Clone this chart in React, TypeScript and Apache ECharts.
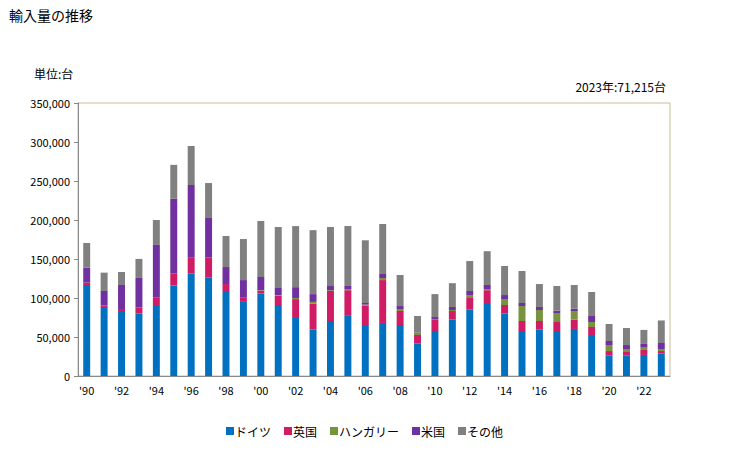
import React, { useEffect, useRef } from "react";
import * as echarts from "echarts";

const years = ["1990","1991","1992","1993","1994","1995","1996","1997","1998","1999","2000","2001","2002","2003","2004","2005","2006","2007","2008","2009","2010","2011","2012","2013","2014","2015","2016","2017","2018","2019","2020","2021","2022","2023"];
const germany = [116700,88500,83300,80000,91000,116000,131600,126000,109000,96000,105600,91000,75600,59400,70500,78000,65400,68000,65400,41500,57700,72200,85000,93600,80000,57700,59400,57700,60300,52600,26000,26000,27000,28600];
const uk = [3000,2000,2600,7700,10000,15200,20000,25700,8900,5000,3800,12000,23000,33300,38500,32000,24600,55000,17900,11100,14100,11100,16000,16400,11000,12800,11100,11500,11900,10200,6000,4800,6400,3400];
const hungary = [0,0,0,0,0,0,0,0,0,0,600,800,1300,2300,1000,1500,1500,2600,2600,1700,1200,1300,2800,1500,7700,19200,14100,11600,11100,6400,7700,3800,3000,2600];
const usa = [19200,18500,30800,38000,67000,96000,93300,50900,21800,22000,16900,9000,14000,10000,5400,3900,2100,5200,3800,1300,2600,3900,5200,5200,5100,3900,3900,3000,3000,7700,5200,5100,4700,7700];
const others = [31600,23500,16600,24400,32000,43500,50000,44800,39800,52600,71800,78200,78300,82000,75600,76900,80400,64100,39800,21300,29400,30500,38400,43300,37200,41000,29400,31600,30400,30800,21800,21800,18000,28915];
const seriesNames = ["ドイツ","英国","ハンガリー","米国","その他"];
const seriesColors = ["#0070c0","#d01c64","#77933c","#7030a0","#808080"];
const yTicks = [0, 50000, 100000, 150000, 200000, 250000, 300000, 350000];

const FONT = "'Noto Sans CJK JP', sans-serif";

export default function App() {
  const ref = useRef<HTMLDivElement>(null);
  useEffect(() => {
    if (!ref.current) return;
    const chart = echarts.init(ref.current, null, { renderer: "svg" });
    const data = [germany, uk, hungary, usa, others];
    chart.setOption({
      animation: false,
      backgroundColor: "#ffffff",
      textStyle: { fontFamily: FONT },
      title: [
        { text: "輸入量の推移", left: 4, top: 3, textStyle: { fontSize: 14, fontWeight: "normal", color: "#000", fontFamily: FONT } },
        { text: "単位:台", left: 29, top: 62, textStyle: { fontSize: 12, fontWeight: "normal", color: "#000", fontFamily: FONT } },
        { text: "2023年:71,215台", right: 58, top: 75, textStyle: { fontSize: 12, fontWeight: "normal", color: "#000", fontFamily: FONT } },
      ],
      legend: {
        bottom: 8,
        left: "center",
        itemWidth: 8,
        itemHeight: 8,
        itemGap: 13,
        icon: "rect",
        textStyle: { fontSize: 12, color: "#000", fontFamily: FONT, padding: [0, 0, 0, -4] },
        data: seriesNames,
      },
      grid: {
        left: 78,
        right: 59,
        top: 103,
        bottom: 74,
        show: true,
        borderColor: "#c8bc94",
        borderWidth: 1,
        containLabel: false,
      },
      xAxis: {
        type: "category",
        data: years,
        axisLine: { lineStyle: { color: "#888888", width: 1 } },
        axisTick: { show: false },
        axisLabel: {
          interval: 1,
          color: "#000",
          fontSize: 11,
          margin: 8,
          formatter: (v: string) => "'" + v.slice(2),
        },
      },
      yAxis: {
        type: "value",
        min: 0,
        max: 350000,
        interval: 50000,
        splitLine: { show: false },
        axisLine: { show: true, lineStyle: { color: "#888888", width: 1 } },
        axisTick: { show: true, length: 4, lineStyle: { color: "#888888" } },
        axisLabel: {
          color: "#000",
          fontSize: 11,
          margin: 8,
          formatter: (v: number) => (yTicks.includes(v) ? v.toLocaleString("en-US") : ""),
        },
      },
      series: seriesNames.map((name, i) => ({
        name,
        type: "bar",
        stack: "total",
        data: data[i],
        barWidth: "40%",
        itemStyle: { color: seriesColors[i] },
      })),
    });
    return () => chart.dispose();
  }, []);
  return <div ref={ref} style={{ width: 729, height: 450, position: "absolute", left: 0, top: 0 }} />;
}
